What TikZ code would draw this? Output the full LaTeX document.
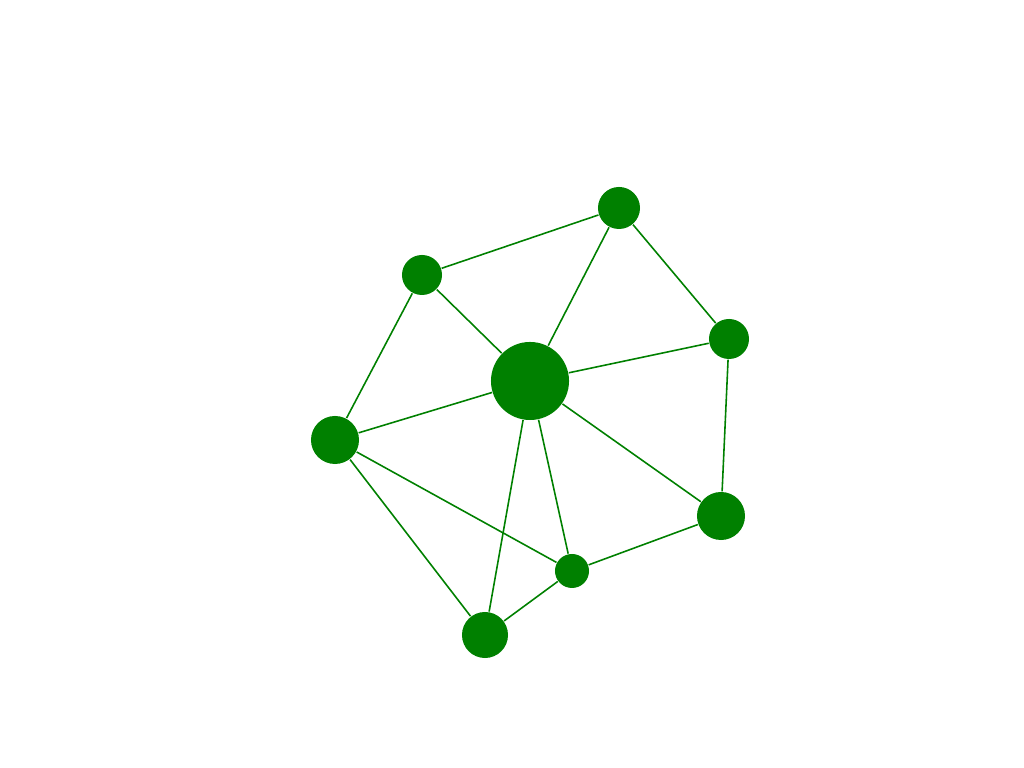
\documentclass[tikz,border=0pt]{standalone}
\usepackage{tikz}
\usetikzlibrary{positioning}

\definecolor{netgreen}{RGB}{0,128,0}
\tikzset{
  hub/.style={circle, fill=netgreen, inner sep=0pt, minimum size=#1},
  link/.style={draw=netgreen, line width=0.45pt}
}

\begin{document}
\begin{tikzpicture}[x=0.01cm, y=-0.01cm]
\useasboundingbox (0,0) rectangle (1024,768);
\node[hub=7.8mm] (center) at (530,381) {};
\node[hub=4.2mm] (top) at (619,208) {};
\node[hub=4.0mm] (upleft) at (422,275) {};
\node[hub=4.0mm] (right) at (729,339) {};
\node[hub=4.8mm] (left) at (335,440) {};
\node[hub=4.8mm] (lowright) at (721,516) {};
\node[hub=3.4mm] (small) at (572,571) {};
\node[hub=4.6mm] (bottom) at (485,635) {};

\draw[link] (upleft) -- (top);
\draw[link] (upleft) -- (center);
\draw[link] (upleft) -- (left);
\draw[link] (top) -- (center);
\draw[link] (top) -- (right);
\draw[link] (right) -- (center);
\draw[link] (right) -- (lowright);
\draw[link] (center) -- (left);
\draw[link] (center) -- (bottom);
\draw[link] (center) -- (small);
\draw[link] (center) -- (lowright);
\draw[link] (left) -- (small);
\draw[link] (left) -- (bottom);
\draw[link] (bottom) -- (small);
\draw[link] (small) -- (lowright);
\end{tikzpicture}
\end{document}
